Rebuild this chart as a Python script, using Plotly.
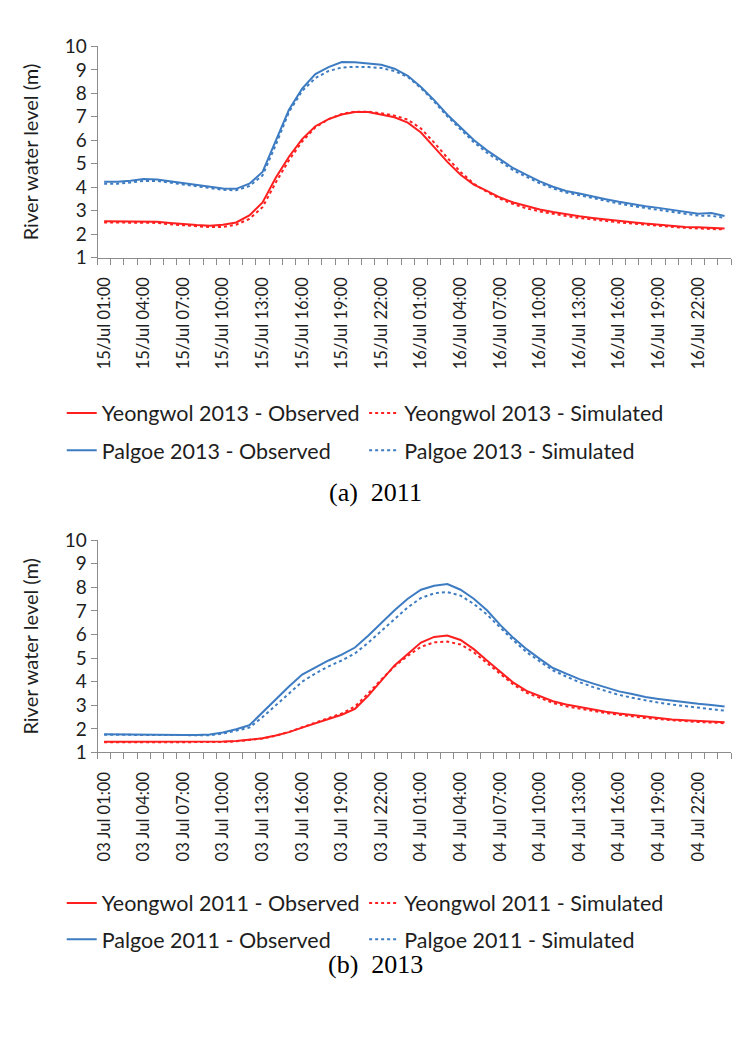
import plotly.graph_objects as go

# ---------------- data ----------------
hours_idx = list(range(48))

labels_a = ["15/Jul 01:00", "15/Jul 04:00", "15/Jul 07:00", "15/Jul 10:00",
            "15/Jul 13:00", "15/Jul 16:00", "15/Jul 19:00", "15/Jul 22:00",
            "16/Jul 01:00", "16/Jul 04:00", "16/Jul 07:00", "16/Jul 10:00",
            "16/Jul 13:00", "16/Jul 16:00", "16/Jul 19:00", "16/Jul 22:00"]
labels_b = ["03 Jul 01:00", "03 Jul 04:00", "03 Jul 07:00", "03 Jul 10:00",
            "03 Jul 13:00", "03 Jul 16:00", "03 Jul 19:00", "03 Jul 22:00",
            "04 Jul 01:00", "04 Jul 04:00", "04 Jul 07:00", "04 Jul 10:00",
            "04 Jul 13:00", "04 Jul 16:00", "04 Jul 19:00", "04 Jul 22:00"]
label_pos = [0, 3, 6, 9, 12, 15, 18, 21, 24, 27, 30, 33, 36, 39, 42, 45]

# panel (a)
yeongwol_obs_a = [2.55, 2.55, 2.56, 2.56, 2.53, 2.48, 2.42, 2.39, 2.36, 2.40, 2.50, 2.80,
                  3.35, 4.40, 5.30, 6.05, 6.60, 6.90, 7.10, 7.20, 7.20, 7.08, 6.98, 6.75,
                  6.33, 5.71, 5.08, 4.53, 4.11, 3.84, 3.56, 3.35, 3.19, 3.05, 2.94, 2.84,
                  2.76, 2.69, 2.62, 2.56, 2.51, 2.45, 2.40, 2.35, 2.31, 2.29, 2.27, 2.24]
yeongwol_sim_a = [2.50, 2.50, 2.50, 2.50, 2.48, 2.42, 2.37, 2.33, 2.30, 2.31, 2.40, 2.65,
                  3.15, 4.20, 5.15, 5.95, 6.55, 6.90, 7.12, 7.22, 7.22, 7.15, 7.05, 6.88,
                  6.50, 5.90, 5.25, 4.65, 4.15, 3.80, 3.50, 3.28, 3.10, 2.97, 2.86, 2.77,
                  2.69, 2.62, 2.56, 2.50, 2.45, 2.40, 2.35, 2.31, 2.27, 2.24, 2.22, 2.20]
palgoe_obs_a = [4.23, 4.23, 4.28, 4.35, 4.33, 4.25, 4.18, 4.12, 4.02, 3.95, 3.93, 4.15,
                4.65, 6.00, 7.30, 8.20, 8.82, 9.12, 9.33, 9.32, 9.28, 9.22, 9.05, 8.75,
                8.27, 7.71, 7.09, 6.54, 6.01, 5.57, 5.18, 4.81, 4.53, 4.25, 4.02, 3.84,
                3.73, 3.60, 3.49, 3.38, 3.28, 3.19, 3.12, 3.03, 2.94, 2.87, 2.90, 2.77]
palgoe_sim_a = [4.15, 4.15, 4.20, 4.27, 4.27, 4.20, 4.12, 4.06, 3.97, 3.89, 3.87, 4.05,
                4.50, 5.80, 7.20, 8.10, 8.65, 8.95, 9.10, 9.13, 9.12, 9.08, 8.95, 8.70,
                8.22, 7.65, 7.02, 6.45, 5.92, 5.47, 5.08, 4.72, 4.44, 4.17, 3.95, 3.77,
                3.66, 3.53, 3.41, 3.30, 3.20, 3.11, 3.03, 2.95, 2.87, 2.79, 2.78, 2.70]

# panel (b)
yeongwol_obs_b = [1.45, 1.45, 1.44, 1.44, 1.44, 1.44, 1.44, 1.44, 1.45, 1.46, 1.48, 1.53,
                  1.60, 1.72, 1.86, 2.05, 2.25, 2.42, 2.60, 2.85, 3.40, 4.05, 4.69, 5.17,
                  5.66, 5.90, 5.96, 5.77, 5.38, 4.90, 4.41, 3.96, 3.61, 3.38, 3.17, 3.03,
                  2.92, 2.83, 2.73, 2.65, 2.58, 2.51, 2.46, 2.40, 2.37, 2.34, 2.32, 2.28]
yeongwol_sim_b = [1.43, 1.43, 1.43, 1.43, 1.43, 1.43, 1.43, 1.43, 1.43, 1.44, 1.47, 1.52,
                  1.59, 1.71, 1.87, 2.07, 2.28, 2.46, 2.65, 2.95, 3.50, 4.10, 4.65, 5.10,
                  5.48, 5.67, 5.70, 5.58, 5.25, 4.80, 4.32, 3.88, 3.53, 3.30, 3.10, 2.96,
                  2.85, 2.76, 2.67, 2.59, 2.52, 2.46, 2.41, 2.36, 2.32, 2.29, 2.27, 2.24]
palgoe_obs_b = [1.77, 1.76, 1.75, 1.74, 1.74, 1.74, 1.74, 1.74, 1.76, 1.85, 1.98, 2.15,
                2.70, 3.25, 3.80, 4.30, 4.60, 4.90, 5.15, 5.45, 5.95, 6.50, 7.03, 7.52,
                7.90, 8.07, 8.14, 7.90, 7.52, 7.03, 6.41, 5.86, 5.38, 4.97, 4.58, 4.34,
                4.11, 3.93, 3.75, 3.59, 3.48, 3.35, 3.27, 3.19, 3.12, 3.06, 3.01, 2.95]
palgoe_sim_b = [1.75, 1.75, 1.74, 1.73, 1.73, 1.73, 1.73, 1.73, 1.73, 1.80, 1.92, 2.05,
                2.50, 3.00, 3.50, 4.00, 4.35, 4.65, 4.90, 5.20, 5.65, 6.15, 6.65, 7.15,
                7.55, 7.75, 7.80, 7.65, 7.30, 6.85, 6.30, 5.75, 5.25, 4.85, 4.48, 4.22,
                3.98, 3.78, 3.60, 3.44, 3.32, 3.20, 3.11, 3.03, 2.96, 2.89, 2.83, 2.77]

names_a = ["Yeongwol 2013 - Observed", "Yeongwol 2013 - Simulated",
           "Palgoe 2013 - Observed", "Palgoe 2013 - Simulated"]
names_b = ["Yeongwol 2011 - Observed", "Yeongwol 2011 - Simulated",
           "Palgoe 2011 - Observed", "Palgoe 2011 - Simulated"]
y_ticks = [1, 2, 3, 4, 5, 6, 7, 8, 9, 10]

# ---------------- styling ----------------
RED = "#FF1F1F"
BLUE = "#3D7CC2"
FONT = "Lato"
TXT = "#1E1E1E"
W, H = 756, 1040

fig = go.Figure()


def py(p):
    return 1 - p / H


def add_panel(series, names, xa, ya, legend_ids):
    styles = [(RED, "solid"), (RED, "dot"), (BLUE, "solid"), (BLUE, "dot")]
    for s, n, (c, d), lg in zip(series, names, styles, legend_ids):
        fig.add_trace(go.Scatter(
            x=hours_idx, y=s, name=n, mode="lines",
            line=dict(color=c, width=2, dash=d),
            xaxis=xa, yaxis=ya, legend=lg))


add_panel([yeongwol_obs_a, yeongwol_sim_a, palgoe_obs_a, palgoe_sim_a], names_a,
          "x", "y", ["legend", "legend2", "legend3", "legend4"])
add_panel([yeongwol_obs_b, yeongwol_sim_b, palgoe_obs_b, palgoe_sim_b], names_b,
          "x2", "y2", ["legend5", "legend6", "legend7", "legend8"])

x_dom = [86 / W, 723 / W]
axis_col = "#8C8C8C"


def xaxis(labels, anchor):
    return dict(
        domain=x_dom, anchor=anchor, range=[-0.5, 47.5],
        tickmode="array", tickvals=label_pos, ticktext=labels,
        tickangle=-90, ticks="outside", ticklen=12, tickcolor="rgba(0,0,0,0)",
        showgrid=False, zeroline=False,
        showline=True, linecolor=axis_col, linewidth=1,
        tickfont=dict(family=FONT, size=16.5, color=TXT),
        minor=dict(tickmode="linear", tick0=-0.5, dtick=1, ticks="outside",
                   ticklen=6, tickcolor=axis_col, tickwidth=1, showgrid=False),
    )


def yaxis(dom, anchor):
    return dict(
        domain=dom, anchor=anchor, range=[1, 10],
        tickmode="array", tickvals=y_ticks,
        ticks="outside", ticklen=6, tickcolor=axis_col,
        showgrid=False, zeroline=False, showline=True,
        linecolor=axis_col, linewidth=1,
        tickfont=dict(family=FONT, size=19, color=TXT),
        title=dict(text="River water level (m)", standoff=20,
                   font=dict(family=FONT, size=20, color=TXT)),
    )


def leg(xpx, ypx):
    return dict(
        orientation="h", xanchor="left", yanchor="middle",
        x=xpx / W, y=py(ypx),
        font=dict(family=FONT, size=21.5, color=TXT),
        bgcolor="rgba(0,0,0,0)", itemwidth=30,
    )


col1, col2 = 50, 354
rows_a = [402, 440]
rows_b = [903, 940]

fig.update_layout(
    width=W, height=H,
    margin=dict(l=0, r=0, t=0, b=0),
    paper_bgcolor="white", plot_bgcolor="white",
    showlegend=True,
    xaxis=xaxis(labels_a, "y"),
    yaxis=yaxis([py(243), py(27)], "x"),
    xaxis2=xaxis(labels_b, "y2"),
    yaxis2=yaxis([py(749), py(532)], "x2"),
    legend=leg(col1, rows_a[0]), legend2=leg(col2, rows_a[0]),
    legend3=leg(col1, rows_a[1]), legend4=leg(col2, rows_a[1]),
    legend5=leg(col1, rows_b[0]), legend6=leg(col2, rows_b[0]),
    legend7=leg(col1, rows_b[1]), legend8=leg(col2, rows_b[1]),
    annotations=[
        dict(text="(a)  2011", x=365 / W, y=py(483), xref="paper", yref="paper",
             showarrow=False, font=dict(family="Liberation Serif", size=26, color="black")),
        dict(text="(b)  2013", x=365 / W, y=py(983), xref="paper", yref="paper",
             showarrow=False, font=dict(family="Liberation Serif", size=26, color="black")),
    ],
)

fig.write_html("out.html")
